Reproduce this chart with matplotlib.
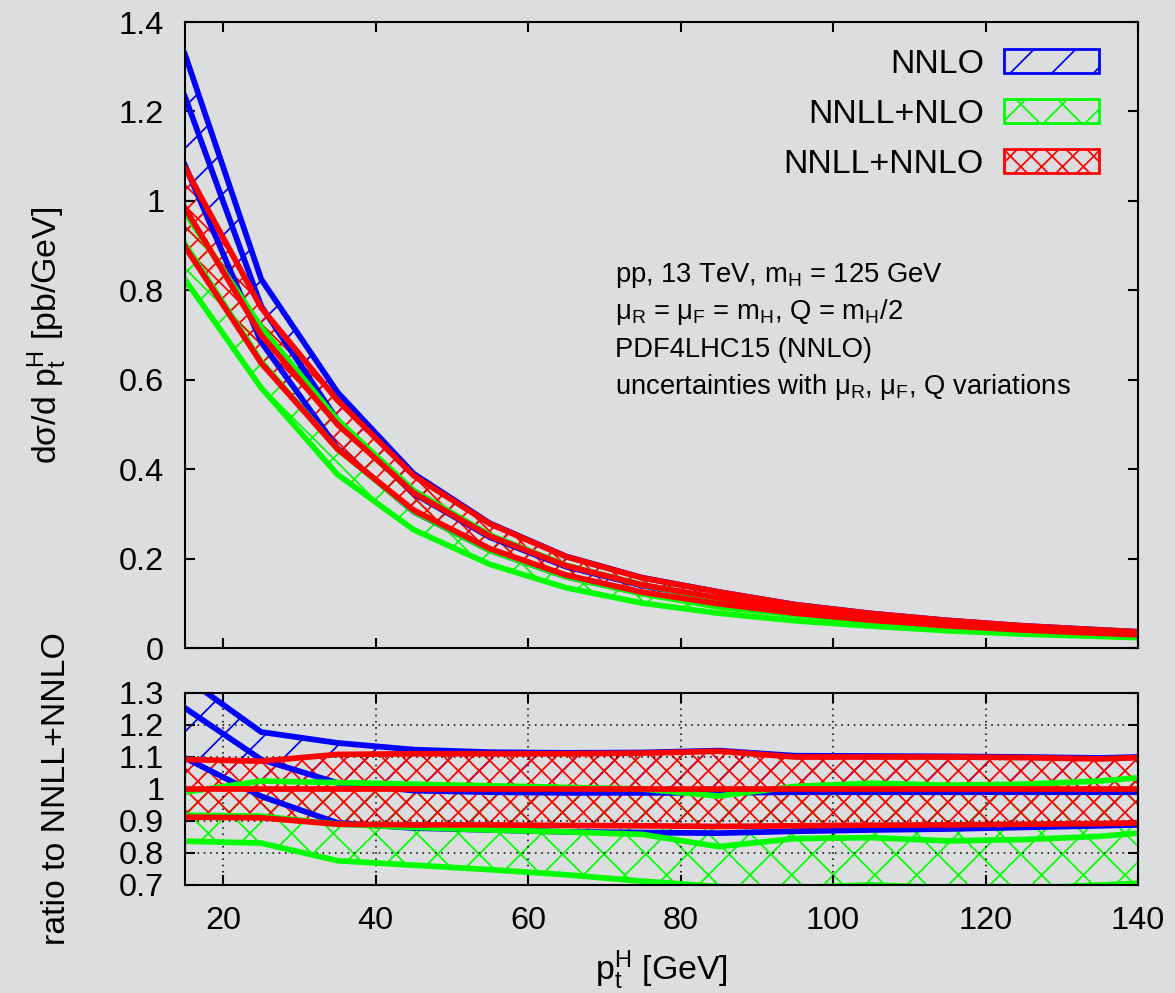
import matplotlib
matplotlib.use("Agg")
import matplotlib.pyplot as plt
from matplotlib.patches import Patch
from matplotlib.ticker import FuncFormatter

# Higgs transverse-momentum bins [GeV]
pt = [15, 25, 35, 45, 55, 65, 75, 85, 95, 105, 115, 125, 135, 140]

# NNLL+NNLO central prediction, dsigma/dpt [pb/GeV]
nnll_nnlo_central = [0.984, 0.700, 0.500, 0.347, 0.250, 0.184, 0.141,
                     0.112, 0.088, 0.070, 0.056, 0.045, 0.037, 0.033]

# Scale-variation bands, given as ratio to the NNLL+NNLO central value
nnlo_lo = [1.097, 0.977, 0.894, 0.878, 0.872, 0.866, 0.864,
           0.862, 0.868, 0.872, 0.875, 0.880, 0.885, 0.888]
nnlo_mid = [1.253, 1.092, 1.019, 0.995, 0.990, 0.988, 0.988,
            0.988, 0.990, 0.990, 0.990, 0.990, 0.990, 0.990]
nnlo_hi = [1.349, 1.178, 1.144, 1.123, 1.115, 1.113, 1.114,
           1.120, 1.104, 1.103, 1.102, 1.100, 1.097, 1.100]

nnll_nlo_lo = [0.837, 0.831, 0.776, 0.762, 0.748, 0.732, 0.712,
               0.695, 0.692, 0.700, 0.692, 0.690, 0.700, 0.705]
nnll_nlo_mid = [0.918, 0.915, 0.890, 0.880, 0.872, 0.866, 0.858,
                0.820, 0.845, 0.848, 0.838, 0.842, 0.852, 0.862]
nnll_nlo_hi = [0.990, 1.025, 1.020, 1.015, 1.010, 1.005, 1.000,
               0.978, 1.008, 1.018, 1.012, 1.015, 1.025, 1.035]

nnll_nnlo_lo = [0.912, 0.910, 0.890, 0.888, 0.888, 0.886, 0.885,
                0.883, 0.885, 0.887, 0.888, 0.890, 0.892, 0.894]
nnll_nnlo_mid = [1.0] * len(pt)
nnll_nnlo_hi = [1.092, 1.087, 1.108, 1.110, 1.110, 1.110, 1.112,
                1.118, 1.100, 1.100, 1.100, 1.098, 1.094, 1.098]

labels = ["NNLO", "NNLL+NLO", "NNLL+NNLO"]
colors = ["#0000ff", "#00ff00", "#ff0000"]
hatches = ["/", "x", "xx"]

top_xticks = [20, 40, 60, 80, 100, 120, 140]
top_yticks = [0, 0.2, 0.4, 0.6, 0.8, 1.0, 1.2, 1.4]
ratio_yticks = [0.7, 0.8, 0.9, 1.0, 1.1, 1.2, 1.3]

info_lines = [
    "pp, 13 TeV, m$_H$ = 125 GeV",
    "\u03bc$_R$ = \u03bc$_F$ = m$_H$, Q = m$_H$/2",
    "PDF4LHC15 (NNLO)",
    "uncertainties with \u03bc$_R$, \u03bc$_F$, Q variations",
]

bands = [
    (nnlo_lo, nnlo_mid, nnlo_hi),
    (nnll_nlo_lo, nnll_nlo_mid, nnll_nlo_hi),
    (nnll_nnlo_lo, nnll_nnlo_mid, nnll_nnlo_hi),
]

BG = "#dcdddf"
plt.rcParams.update({
    "font.family": ["Liberation Sans", "DejaVu Sans"],
    "mathtext.default": "regular",
    "hatch.linewidth": 1.0,
    "axes.linewidth": 1.2,
    "xtick.direction": "in",
    "ytick.direction": "in",
    "xtick.major.size": 5.8,
    "ytick.major.size": 5.8,
    "xtick.major.width": 1.2,
    "ytick.major.width": 1.2,
    "xtick.major.pad": 12,
    "ytick.major.pad": 12,
})

W, H = 1175, 993
DPI = 125
fig = plt.figure(figsize=(W / DPI, H / DPI), dpi=DPI, facecolor=BG)

def px_axes(left, top, right, bottom):
    return fig.add_axes([left / W, 1 - bottom / H, (right - left) / W, (bottom - top) / H])

ax = px_axes(185, 22, 1138, 648)
axr = px_axes(185, 693, 1138, 885)

fmt = FuncFormatter(lambda v, _: f"{round(v, 6):g}")
LW = 3.3

for a in (ax, axr):
    a.set_facecolor(BG)
    a.set_xlim(15, 140)
    a.set_xticks(top_xticks)
    a.tick_params(which="both", top=True, right=True, labelsize=18.7, color="black")
    a.yaxis.set_major_formatter(fmt)

ax.set_ylim(0, 1.4)
ax.set_yticks(top_yticks)
ax.tick_params(labelbottom=False)

axr.set_ylim(0.7, 1.3)
axr.set_yticks(ratio_yticks)
axr.grid(True, color="black", linestyle=(0, (1, 3)), linewidth=0.9)

for (lo, mid, hi), color, hatch in zip(bands, colors, hatches):
    abs_lo = [r * c for r, c in zip(lo, nnll_nnlo_central)]
    abs_mid = [r * c for r, c in zip(mid, nnll_nnlo_central)]
    abs_hi = [r * c for r, c in zip(hi, nnll_nnlo_central)]

    ax.fill_between(pt, abs_lo, abs_hi, facecolor="none", edgecolor=color,
                    hatch=hatch, linewidth=0)
    for curve in (abs_lo, abs_mid, abs_hi):
        ax.plot(pt, curve, color=color, lw=LW, solid_joinstyle="miter")

    axr.fill_between(pt, lo, hi, facecolor="none", edgecolor=color,
                     hatch=hatch, linewidth=0)
    for curve in (lo, mid, hi):
        axr.plot(pt, curve, color=color, lw=LW, solid_joinstyle="miter")

handles = [Patch(facecolor="none", edgecolor=c, hatch=h, linewidth=1.6)
           for c, h in zip(colors, hatches)]
ax.legend(handles, labels, loc="upper right", bbox_to_anchor=(0.959, 0.957),
          frameon=False, markerfirst=False, fontsize=19.5,
          handlelength=2.8, handleheight=0.72, handletextpad=0.6,
          labelspacing=0.56, borderpad=0, borderaxespad=0)

info_y = [275, 312, 350, 387]
for text, ypx in zip(info_lines, info_y):
    fig.text(615 / W, 1 - ypx / H, text, fontsize=15.8, ha="left", va="center")

fig.text(47 / W, 1 - 335 / H, "d\u03c3/d p$_t^H$ [pb/GeV]", rotation=90,
         fontsize=19.5, ha="center", va="center")
fig.text(57 / W, 1 - 789 / H, "ratio to NNLL+NNLO", rotation=90,
         fontsize=19.5, ha="center", va="center")
fig.text(661 / W, 1 - 970 / H, "p$_t^H$ [GeV]", fontsize=19.5,
         ha="center", va="center")

fig.savefig("out.png", dpi=DPI, facecolor=BG)
